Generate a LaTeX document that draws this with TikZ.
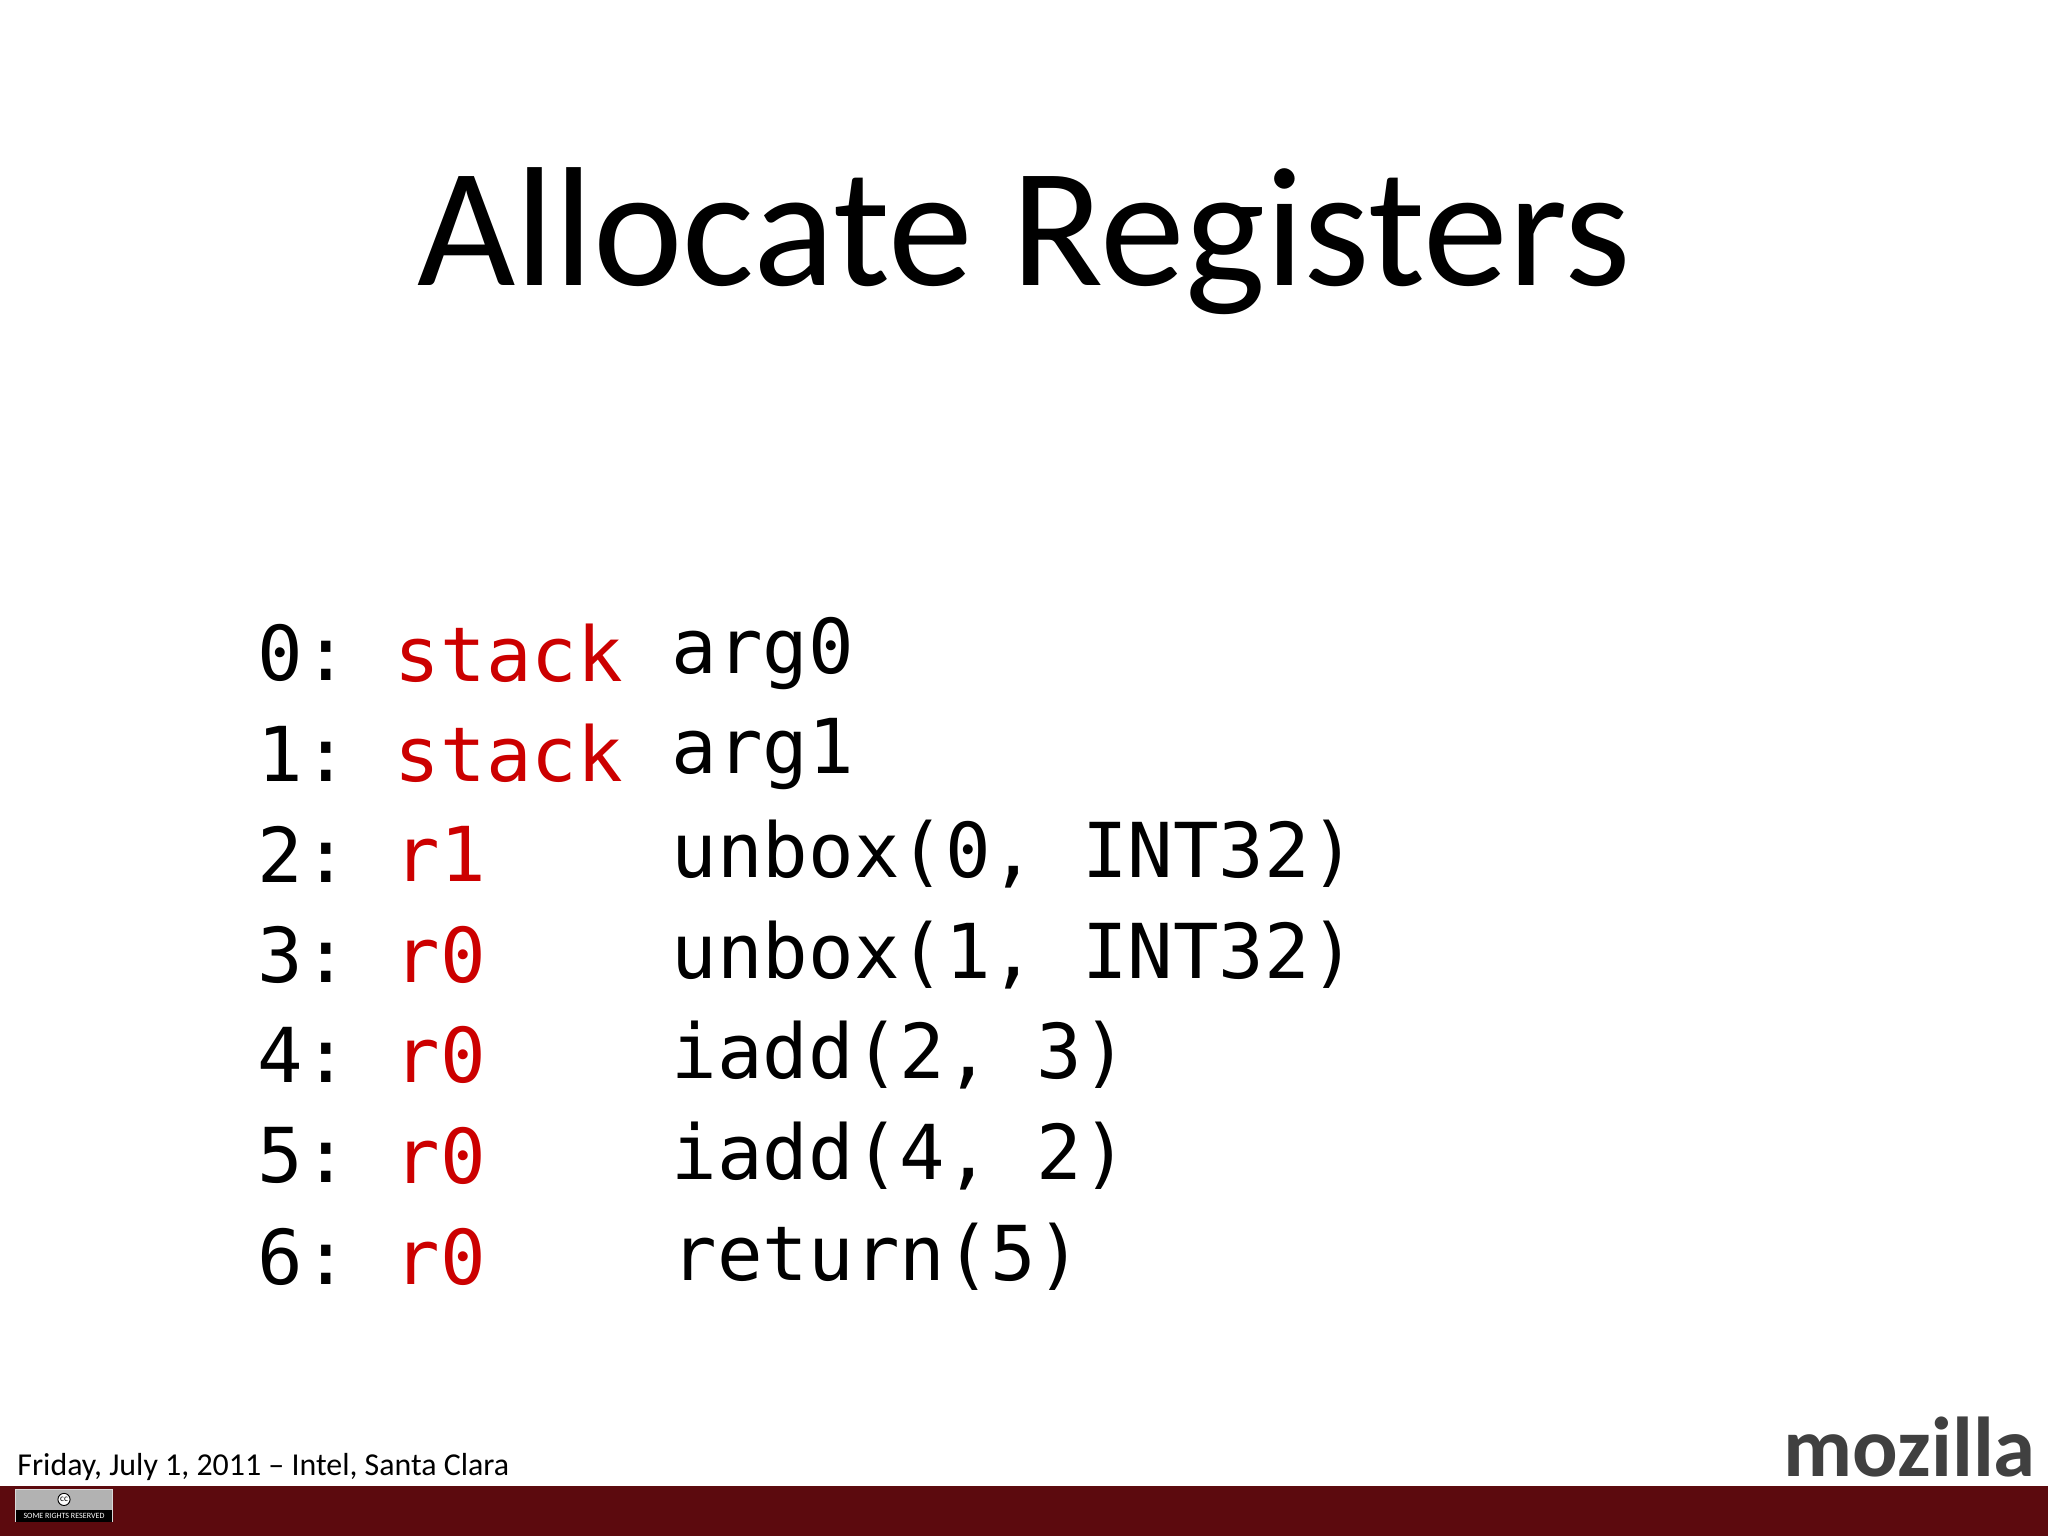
\documentclass[tikz,border=0pt]{standalone}
\usepackage{fontspec}
\setmainfont{Carlito}
\newfontfamily\codefont{DejaVu Sans Mono}
\definecolor{codered}{HTML}{CC0000}
\definecolor{barred}{HTML}{5C0A0E}
\definecolor{logogray}{HTML}{404040}
\begin{document}
\begin{tikzpicture}[x=0.02cm,y=-0.02cm,
  code/.style={anchor=west,inner sep=0pt,font=\codefont\fontsize{33}{40}\selectfont}]
\fill[white] (0,0) rectangle (1568,1176);
\useasboundingbox (0,0) rectangle (1568,1176);
\node[font=\fontsize{74}{90}\selectfont,inner sep=0pt] (title) at (784,185) {Allocate Registers};
\foreach \i/\r/\a in {0/stack/arg0,1/stack/arg1,2/r1/{unbox(0, INT32)},3/r0/{unbox(1, INT32)},4/r0/{iadd(2, 3)},5/r0/{iadd(4, 2)},6/r0/{return(5)}}{
  \node[code] (n\i) at (197,{500+77*\i}) {\i:};
  \node[code,text=codered] (r\i) at (302,{500+77*\i}) {\r};
  \node[code] (a\i) at (514,{500+77*\i}) {\a};
}
\fill[barred] (0,1138) rectangle (1568,1176);
\node[anchor=west,inner sep=0pt,font=\fontsize{13.9}{16}\selectfont] (foot) at (13,1123) {Friday, July 1, 2011 -- Intel, Santa Clara};
\node[anchor=east,inner sep=0pt,font=\bfseries\fontsize{37}{40}\selectfont,text=logogray] (logo) at (1559,1108) {mozilla};
\draw[fill=gray!60,draw=gray!30] (12,1140) rectangle (86,1165);
\fill[black] (12,1156) rectangle (86,1165);
\node[draw,circle,fill=white,inner sep=0.5pt,font=\fontsize{4}{4}\selectfont] (cc) at (49,1148) {cc};
\node[inner sep=0pt,text=white,font=\fontsize{3.5}{4}\selectfont] (srr) at (49,1160.5) {SOME RIGHTS RESERVED};
\end{tikzpicture}
\end{document}
